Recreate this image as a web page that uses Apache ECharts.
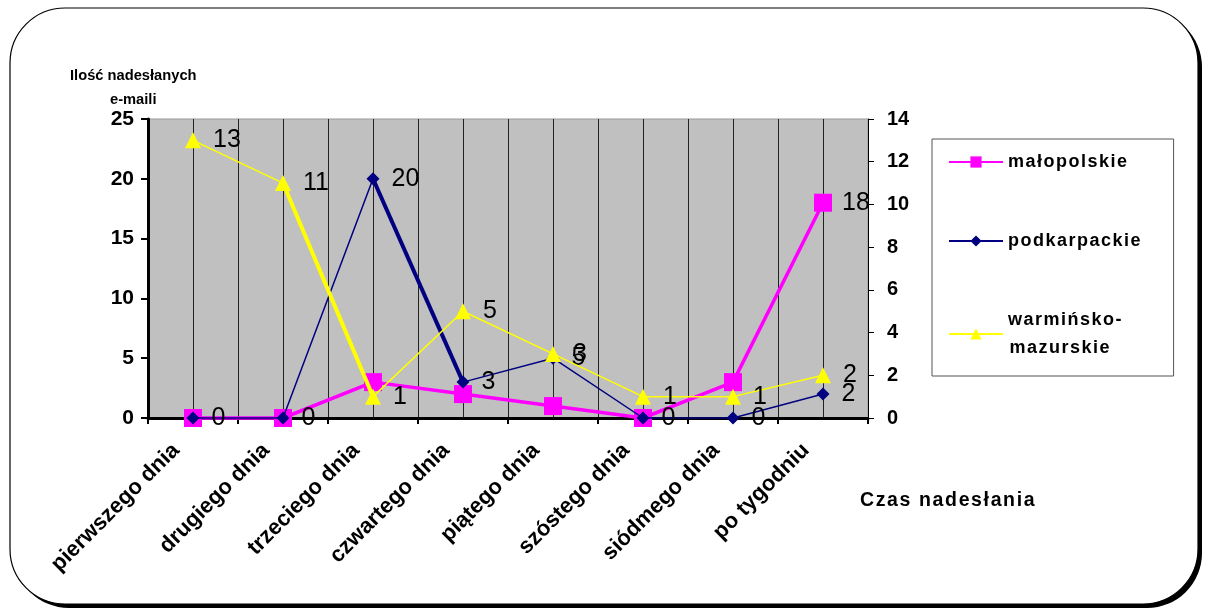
<!DOCTYPE html>
<html>
<head>
<meta charset="utf-8">
<script src="https://cdn.jsdelivr.net/npm/echarts@6/dist/echarts.min.js"></script>
<style>
  html, body { margin: 0; padding: 0; background: #fff; }
  #main { width: 1208px; height: 614px; }
</style>
</head>
<body>
<div id="main"></div>
<script>
var categories = ["pierwszego dnia", "drugiego dnia", "trzeciego dnia", "czwartego dnia",
  "piątego dnia", "szóstego dnia", "siódmego dnia", "po tygodniu"];
var malopolskie = [0, 0, 3, 2, 1, 0, 3, 18];
var podkarpackie = [0, 0, 20, 3, 5, 0, 0, 2];
var warminsko = [13, 11, 1, 5, 3, 1, 1, 2];
var leftTicks = [0, 5, 10, 15, 20, 25];
var rightTicks = [0, 2, 4, 6, 8, 10, 12, 14];

var FONT = "Liberation Sans";

// segment of a series drawn thicker (Excel look), built from same data
function segment(arr, from) {
  return arr.map(function (v, i) { return (i === from || i === from + 1) ? v : "-"; });
}
// wide letter spacing like the original
function spaced(s) {
  return s.split("").join("\u200a");
}

var gridCats = [];
for (var i = 0; i < categories.length * 2; i++) gridCats.push(String(i));

var chart = echarts.init(document.getElementById("main"));
var option = {
  animation: false,
  textStyle: { fontFamily: FONT },
  graphic: [
    { type: "rect", z: -20, shape: { x: 14, y: 12, width: 1188, height: 596, r: 55 },
      style: { fill: "#000" } },
    { type: "rect", z: -19, shape: { x: 10, y: 8, width: 1188, height: 596, r: 55 },
      style: { fill: "#fff", stroke: "#000", lineWidth: 1.2 } },
    { type: "text", left: 70, top: 68, z: 10,
      style: { text: "Ilość nadesłanych", font: "bold 14.7px " + FONT, fill: "#000" } },
    { type: "text", left: 110, top: 92, z: 10,
      style: { text: "e-maili", font: "bold 14.7px " + FONT, fill: "#000" } },
    { type: "text", left: 860, top: 491, z: 10,
      style: { text: spaced("Czas nadesłania"), font: "bold 19.5px " + FONT, fill: "#000" } }
  ],
  grid: {
    left: 148, right: 340, top: 119, bottom: 196,
    show: true, backgroundColor: "#C0C0C0", borderColor: "#999", borderWidth: 1
  },
  legend: {
    orient: "vertical",
    left: 932, top: 139,
    padding: [9, 33, 14, 16],
    itemGap: 51,
    itemWidth: 54, itemHeight: 14,
    backgroundColor: "#fff",
    borderColor: "#555", borderWidth: 1,
    data: ["małopolskie", "podkarpackie", "warmińsko-mazurskie"],
    formatter: function (n) { return spaced(n).replace("-", "-\n"); },
    textStyle: { fontFamily: FONT, fontWeight: "bold", fontSize: 18, color: "#000", lineHeight: 28 }
  },
  xAxis: [
    {
      type: "category", data: categories, boundaryGap: true,
      axisLine: { lineStyle: { color: "#000", width: 3 } },
      axisTick: { show: true, length: 6, lineStyle: { color: "#000", width: 2 } },
      axisLabel: { interval: 0, rotate: 45, margin: 12, padding: [0, 24, 0, 0], color: "#000",
        fontFamily: FONT, fontWeight: "bold", fontSize: 22 },
      splitLine: { show: false }
    },
    {
      type: "category", data: gridCats, boundaryGap: true, position: "bottom",
      axisLine: { show: false }, axisTick: { show: false }, axisLabel: { show: false },
      splitLine: { show: true, lineStyle: { color: "#222", width: 1 } }
    }
  ],
  yAxis: [
    {
      type: "value", min: 0, max: 25, interval: 5,
      axisLine: { show: true, lineStyle: { color: "#000", width: 3 } },
      axisTick: { show: true, length: 7, lineStyle: { color: "#000", width: 2 } },
      axisLabel: { color: "#000", fontFamily: FONT, fontWeight: "bold", fontSize: 21, margin: 14,
        formatter: function (v) { return leftTicks.indexOf(v) >= 0 ? v : ""; } },
      splitLine: { show: false }
    },
    {
      type: "value", min: 0, max: 14, interval: 2, position: "right",
      axisLine: { show: true, lineStyle: { color: "#000", width: 1 } },
      axisTick: { show: true, length: 6, lineStyle: { color: "#000", width: 1 } },
      axisLabel: { color: "#000", fontFamily: FONT, fontWeight: "bold", fontSize: 20, margin: 19,
        formatter: function (v) { return rightTicks.indexOf(v) >= 0 ? v : ""; } },
      splitLine: { show: false }
    }
  ],
  series: [
    {
      name: "małopolskie", type: "line", yAxisIndex: 0, clip: false, z: 3,
      data: malopolskie.map(function (v, i) {
        return { value: v, label: { show: i === malopolskie.length - 1 } };
      }),
      symbol: "rect", symbolSize: 18,
      lineStyle: { color: "#FF00FF", width: 3.5 },
      itemStyle: { color: "#FF00FF" },
      label: { position: "right", distance: 10, color: "#000", fontFamily: FONT, fontSize: 25 }
    },
    {
      name: "podkarpackie", type: "line", yAxisIndex: 0, clip: false, z: 4,
      data: podkarpackie,
      symbol: "diamond", symbolSize: 13,
      lineStyle: { color: "#000080", width: 1.5 },
      itemStyle: { color: "#000080" },
      label: { show: true, position: "right", distance: 12, color: "#000", fontFamily: FONT, fontSize: 25 }
    },
    {
      name: "podkarpackie", type: "line", yAxisIndex: 0, clip: false, z: 4,
      data: segment(podkarpackie, 2), symbol: "none",
      lineStyle: { color: "#000080", width: 4 }
    },
    {
      name: "warmińsko-mazurskie", type: "line", yAxisIndex: 1, clip: false, z: 5,
      data: warminsko,
      symbol: "triangle", symbolSize: 16,
      lineStyle: { color: "#FFFF00", width: 1.5 },
      itemStyle: { color: "#FFFF00" },
      label: { show: true, position: "right", distance: 12, color: "#000", fontFamily: FONT, fontSize: 25 }
    },
    {
      name: "warmińsko-mazurskie", type: "line", yAxisIndex: 1, clip: false, z: 5,
      data: segment(warminsko, 1), symbol: "none",
      lineStyle: { color: "#FFFF00", width: 4 }
    }
  ]
};
chart.setOption(option);
</script>
</body>
</html>
